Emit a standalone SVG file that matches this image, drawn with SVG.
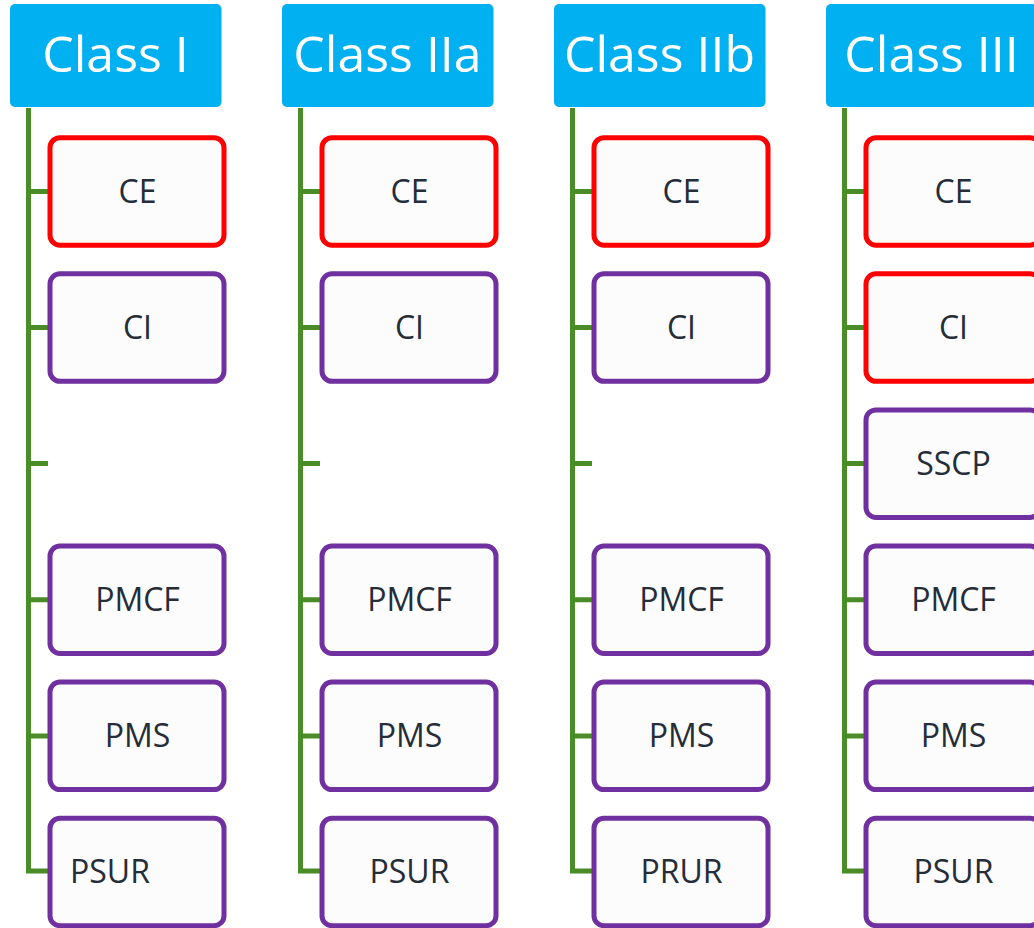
<svg xmlns="http://www.w3.org/2000/svg" width="1034" height="928" viewBox="0 0 1034 928">
<style>
.hdr{fill:#00b0f0}
.htx{fill:#ffffff;font-family:"Open Sans","Noto Sans","Liberation Sans",sans-serif;font-size:50px;text-anchor:middle}
.box{fill:#fcfcfc;stroke-width:5}
.red{stroke:#ff0000}
.pur{stroke:#7030a0}
.btx{fill:#252d38;font-family:"Open Sans","Noto Sans","Liberation Sans",sans-serif;font-size:32px;text-anchor:middle}
.con{fill:none;stroke:#4a8c26;stroke-width:5}
</style>
<rect width="1034" height="928" fill="#ffffff"/>
<g id="connectors" class="con">
<path d="M28.5,108 V871 H49 M28.5,191.5 H49 M28.5,327.5 H49 M28.5,463.5 H48 M28.5,599.8 H49 M28.5,735.9 H49"/>
<path d="M300.5,108 V871 H321 M300.5,191.5 H321 M300.5,327.5 H321 M300.5,463.5 H320 M300.5,599.8 H321 M300.5,735.9 H321"/>
<path d="M572.5,108 V871 H593 M572.5,191.5 H593 M572.5,327.5 H593 M572.5,463.5 H592 M572.5,599.8 H593 M572.5,735.9 H593"/>
<path d="M844.5,108 V871 H865 M844.5,191.5 H865 M844.5,327.5 H865 M844.5,463.5 H865 M844.5,599.8 H865 M844.5,735.9 H865"/>
</g>
<g id="class1">
<rect class="hdr" x="10" y="4" width="211.5" height="103" rx="5"/>
<text class="htx" x="115.5" y="72">Class I</text>
</g>
<g id="class1-ce"><rect class="box red" x="50" y="137.7" width="174" height="107.5" rx="10"/><text class="btx" x="137.5" y="202.8">CE</text></g>
<g id="class1-ci"><rect class="box pur" x="50" y="273.8" width="174" height="107.5" rx="10"/><text class="btx" x="137.5" y="338.9">CI</text></g>
<g id="class1-pmcf"><rect class="box pur" x="50" y="546" width="174" height="107.5" rx="10"/><text class="btx" x="137.5" y="611.1">PMCF</text></g>
<g id="class1-pms"><rect class="box pur" x="50" y="682.1" width="174" height="107.5" rx="10"/><text class="btx" x="137.5" y="747.2">PMS</text></g>
<g id="class1-psur"><rect class="box pur" x="50" y="818.2" width="174" height="107.5" rx="10"/><text class="btx" x="70" y="883.3" style="text-anchor:start">PSUR</text></g>

<g id="class2a">
<rect class="hdr" x="282" y="4" width="211.5" height="103" rx="5"/>
<text class="htx" x="387.5" y="72">Class IIa</text>
</g>
<g id="class2a-ce"><rect class="box red" x="322" y="137.7" width="174" height="107.5" rx="10"/><text class="btx" x="409.5" y="202.8">CE</text></g>
<g id="class2a-ci"><rect class="box pur" x="322" y="273.8" width="174" height="107.5" rx="10"/><text class="btx" x="409.5" y="338.9">CI</text></g>
<g id="class2a-pmcf"><rect class="box pur" x="322" y="546" width="174" height="107.5" rx="10"/><text class="btx" x="409.5" y="611.1">PMCF</text></g>
<g id="class2a-pms"><rect class="box pur" x="322" y="682.1" width="174" height="107.5" rx="10"/><text class="btx" x="409.5" y="747.2">PMS</text></g>
<g id="class2a-psur"><rect class="box pur" x="322" y="818.2" width="174" height="107.5" rx="10"/><text class="btx" x="409.5" y="883.3">PSUR</text></g>

<g id="class2b">
<rect class="hdr" x="554" y="4" width="211.5" height="103" rx="5"/>
<text class="htx" x="659.5" y="72">Class IIb</text>
</g>
<g id="class2b-ce"><rect class="box red" x="594" y="137.7" width="174" height="107.5" rx="10"/><text class="btx" x="681.5" y="202.8">CE</text></g>
<g id="class2b-ci"><rect class="box pur" x="594" y="273.8" width="174" height="107.5" rx="10"/><text class="btx" x="681.5" y="338.9">CI</text></g>
<g id="class2b-pmcf"><rect class="box pur" x="594" y="546" width="174" height="107.5" rx="10"/><text class="btx" x="681.5" y="611.1">PMCF</text></g>
<g id="class2b-pms"><rect class="box pur" x="594" y="682.1" width="174" height="107.5" rx="10"/><text class="btx" x="681.5" y="747.2">PMS</text></g>
<g id="class2b-prur"><rect class="box pur" x="594" y="818.2" width="174" height="107.5" rx="10"/><text class="btx" x="681.5" y="883.3">PRUR</text></g>

<g id="class3">
<rect class="hdr" x="826" y="4" width="211.5" height="103" rx="5"/>
<text class="htx" x="931.5" y="72">Class III</text>
</g>
<g id="class3-ce"><rect class="box red" x="866" y="137.7" width="174" height="107.5" rx="10"/><text class="btx" x="953.5" y="202.8">CE</text></g>
<g id="class3-ci"><rect class="box red" x="866" y="273.8" width="174" height="107.5" rx="10"/><text class="btx" x="953.5" y="338.9">CI</text></g>
<g id="class3-sscp"><rect class="box pur" x="866" y="409.9" width="174" height="107.5" rx="10"/><text class="btx" x="953.5" y="475">SSCP</text></g>
<g id="class3-pmcf"><rect class="box pur" x="866" y="546" width="174" height="107.5" rx="10"/><text class="btx" x="953.5" y="611.1">PMCF</text></g>
<g id="class3-pms"><rect class="box pur" x="866" y="682.1" width="174" height="107.5" rx="10"/><text class="btx" x="953.5" y="747.2">PMS</text></g>
<g id="class3-psur"><rect class="box pur" x="866" y="818.2" width="174" height="107.5" rx="10"/><text class="btx" x="953.5" y="883.3">PSUR</text></g>
</svg>
